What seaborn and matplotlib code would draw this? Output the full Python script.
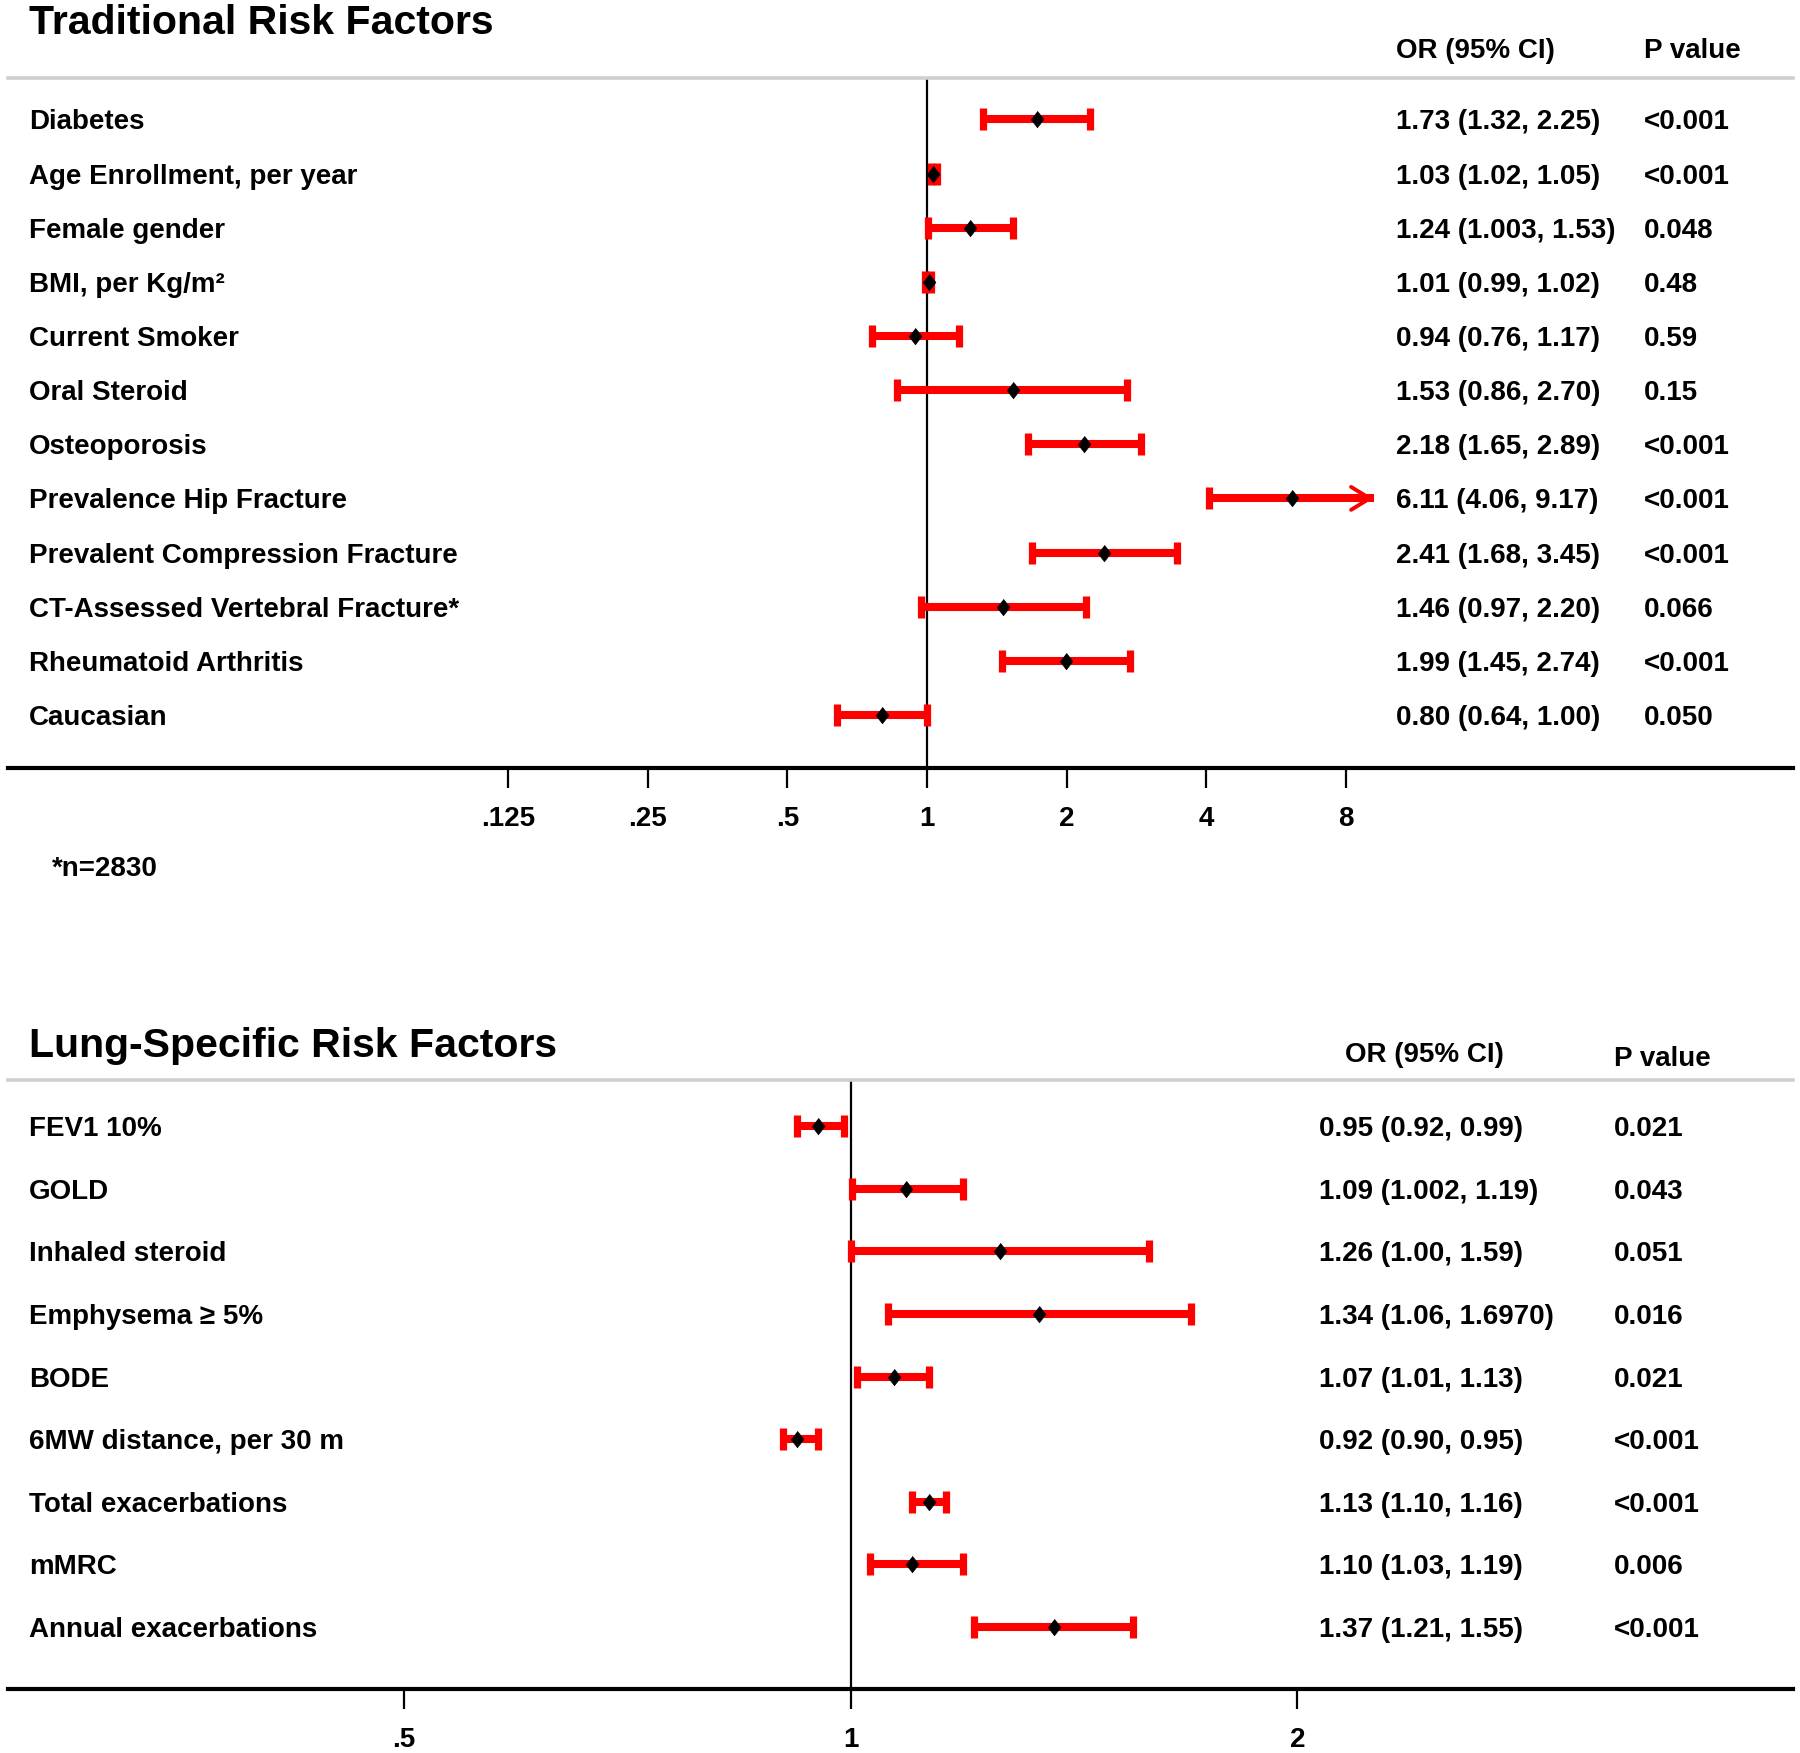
import numpy as np
import pandas as pd
import matplotlib
matplotlib.use("Agg")
import matplotlib.pyplot as plt
import matplotlib.transforms as mtrans
from matplotlib.patches import ArrowStyle
import seaborn as sns

# Traditional risk factors
trad_labels = ["Diabetes", "Age Enrollment, per year", "Female gender", "BMI, per Kg/m²",
               "Current Smoker", "Oral Steroid", "Osteoporosis", "Prevalence Hip Fracture",
               "Prevalent Compression Fracture", "CT-Assessed Vertebral Fracture*",
               "Rheumatoid Arthritis", "Caucasian"]
trad_or = [1.73, 1.03, 1.24, 1.01, 0.94, 1.53, 2.18, 6.11, 2.41, 1.46, 1.99, 0.80]
trad_lo = [1.32, 1.02, 1.003, 0.99, 0.76, 0.86, 1.65, 4.06, 1.68, 0.97, 1.45, 0.64]
trad_hi = [2.25, 1.05, 1.53, 1.02, 1.17, 2.70, 2.89, 9.17, 3.45, 2.20, 2.74, 1.00]
trad_ci_text = ["1.73 (1.32, 2.25)", "1.03 (1.02, 1.05)", "1.24 (1.003, 1.53)",
                "1.01 (0.99, 1.02)", "0.94 (0.76, 1.17)", "1.53 (0.86, 2.70)",
                "2.18 (1.65, 2.89)", "6.11 (4.06, 9.17)", "2.41 (1.68, 3.45)",
                "1.46 (0.97, 2.20)", "1.99 (1.45, 2.74)", "0.80 (0.64, 1.00)"]
trad_p = ["<0.001", "<0.001", "0.048", "0.48", "0.59", "0.15", "<0.001", "<0.001",
          "<0.001", "0.066", "<0.001", "0.050"]
trad_arrow = [False, False, False, False, False, False, False, True, False, False, False, False]
trad_ticks = [0.125, 0.25, 0.5, 1, 2, 4, 8]
trad_ticklabels = [".125", ".25", ".5", "1", "2", "4", "8"]

# Lung-specific risk factors
lung_labels = ["FEV1 10%", "GOLD", "Inhaled steroid", "Emphysema ≥ 5%", "BODE",
               "6MW distance, per 30 m", "Total exacerbations", "mMRC", "Annual exacerbations"]
lung_or = [0.95, 1.09, 1.26, 1.34, 1.07, 0.92, 1.13, 1.10, 1.37]
lung_lo = [0.92, 1.002, 1.00, 1.06, 1.01, 0.90, 1.10, 1.03, 1.21]
lung_hi = [0.99, 1.19, 1.59, 1.697, 1.13, 0.95, 1.16, 1.19, 1.55]
lung_ci_text = ["0.95 (0.92, 0.99)", "1.09 (1.002, 1.19)", "1.26 (1.00, 1.59)",
                "1.34 (1.06, 1.6970)", "1.07 (1.01, 1.13)", "0.92 (0.90, 0.95)",
                "1.13 (1.10, 1.16)", "1.10 (1.03, 1.19)", "1.37 (1.21, 1.55)"]
lung_p = ["0.021", "0.043", "0.051", "0.016", "0.021", "<0.001", "<0.001", "0.006", "<0.001"]
lung_arrow = [False] * 9
lung_ticks = [0.5, 1, 2]
lung_ticklabels = [".5", "1", "2"]

sns.set_theme(style="white")
plt.rcParams["font.family"] = ["Liberation Sans", "DejaVu Sans"]
plt.rcParams["font.weight"] = "bold"
plt.rcParams["text.color"] = "black"
plt.rcParams["xtick.color"] = "black"
plt.rcParams["xtick.labelcolor"] = "black"

W, H = 1800, 1753
fig = plt.figure(figsize=(W / 100, H / 100), dpi=100)

RED = "#ff0000"
FS = 20
diamond = [(0, 1), (0.78, 0), (0, -1), (-0.78, 0)]


def forest(top_px, bot_px, labels, ors, los, his, ci_text, pvals, arrows,
           xlim_log2, ticks, ticklabels, pad_top, pad_bot, title, title_y,
           or_x, p_x, hdr_or_x, hdr_p_x, hdr_y, hdr_p_y):
    ax = fig.add_axes([8 / W, 1 - bot_px / H, 1785 / W, (bot_px - top_px) / H])
    n = len(labels)
    df = pd.DataFrame({"label": labels, "or": ors, "lo": los, "hi": his,
                       "row": np.arange(n), "arrow": arrows})

    ax.set_xscale("log", base=2)
    ax.axvline(1, color="black", lw=1.6, zorder=1)

    # CI bars with end caps; arrow instead of the upper cap where flagged
    ax.hlines(df["row"], df["lo"], df["hi"], color=RED, lw=5.8, zorder=2)
    ax.scatter(df["lo"], df["row"], marker="|", s=230, linewidths=5.2, color=RED, zorder=2)
    capped = df[~df["arrow"]]
    ax.scatter(capped["hi"], capped["row"], marker="|", s=230, linewidths=5.2, color=RED, zorder=2)
    for _, r in df[df["arrow"]].iterrows():
        ax.annotate("", xy=(r["hi"], r["row"]), xytext=(r["or"], r["row"]),
                    arrowprops=dict(arrowstyle=ArrowStyle("->", head_length=0.9, head_width=0.55),
                                    color=RED, lw=2.8, shrinkA=0, shrinkB=0,
                                    mutation_scale=15), zorder=2)

    sns.scatterplot(data=df, x="or", y="row", marker=diamond, s=140, color="black",
                    edgecolor="black", linewidth=0.5, ax=ax, zorder=3, legend=False)

    ax.set_xlim(2 ** xlim_log2[0], 2 ** xlim_log2[1])
    ax.set_ylim(n - 1 + pad_bot, -pad_top)
    ax.set_xticks(ticks)
    ax.set_xticklabels(ticklabels, fontsize=FS, fontweight="bold", color="black")
    ax.xaxis.set_minor_locator(matplotlib.ticker.NullLocator())
    ax.set_yticks([])
    ax.set_xlabel("")
    ax.set_ylabel("")
    ax.tick_params(axis="x", direction="out", length=14.5, width=1.6, color="black",
                   pad=13, bottom=True)
    for s in ["left", "right"]:
        ax.spines[s].set_visible(False)
    ax.spines["bottom"].set_color("black")
    ax.spines["bottom"].set_linewidth(3)
    ax.spines["top"].set_color("#cfcfcf")
    ax.spines["top"].set_linewidth(2.6)

    tr = mtrans.blended_transform_factory(fig.transFigure, ax.transData)
    for i in range(n):
        ax.text(29 / W, i, labels[i], transform=tr, fontsize=FS, fontweight="bold",
                va="center_baseline", ha="left")
        ax.text(or_x / W, i, ci_text[i], transform=tr, fontsize=FS, fontweight="bold",
                va="center_baseline", ha="left")
        ax.text(p_x / W, i, pvals[i], transform=tr, fontsize=FS, fontweight="bold",
                va="center_baseline", ha="left")

    fig.text(29 / W, 1 - title_y / H, title, fontsize=29.5, fontweight="bold",
             va="center", ha="left")
    fig.text(hdr_or_x / W, 1 - hdr_y / H, "OR (95% CI)", fontsize=FS, fontweight="bold",
             va="center_baseline", ha="left")
    fig.text(hdr_p_x / W, 1 - hdr_p_y / H, "P value", fontsize=FS, fontweight="bold",
             va="center_baseline", ha="left")
    return ax


forest(78, 768, trad_labels, trad_or, trad_lo, trad_hi, trad_ci_text, trad_p, trad_arrow,
       (-6.58, 6.2), trad_ticks, trad_ticklabels, 0.765, 0.98,
       "Traditional Risk Factors", 23, 1396, 1644, 1396, 1644, 48, 48)

forest(1080, 1689, lung_labels, lung_or, lung_lo, lung_hi, lung_ci_text, lung_p, lung_arrow,
       (-1.887, 2.11), lung_ticks, lung_ticklabels, 0.735, 0.99,
       "Lung-Specific Risk Factors", 1046, 1319, 1614, 1345, 1614, 1052, 1056)

fig.text(52 / W, 1 - 866 / H, "*n=2830", fontsize=FS, fontweight="bold",
         va="center_baseline", ha="left")

fig.savefig("out.png", dpi=100)
